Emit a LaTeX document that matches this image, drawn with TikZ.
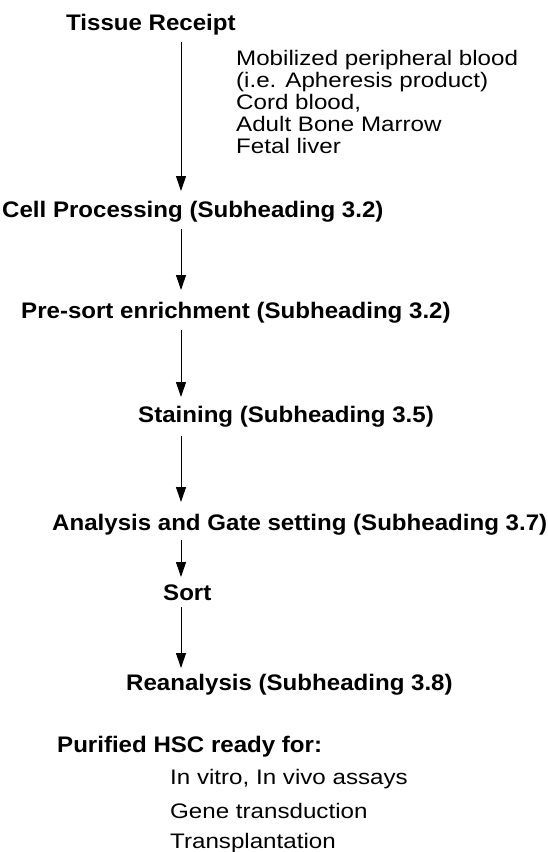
\documentclass[tikz,border=0pt]{standalone}
\usepackage{fontspec}
\setmainfont{Liberation Sans}
\newfontfamily\headfont{Liberation Sans}[FakeStretch=1.07]
\newfontfamily\itemfont{Liberation Sans}[FakeStretch=1.15]
\usetikzlibrary{arrows.meta}
\tikzset{
  stephead/.style={font=\headfont\bfseries\fontsize{22.5}{26}\selectfont, anchor=base west, inner sep=0pt},
  stepitem/.style={font=\itemfont\fontsize{21}{24}\selectfont, anchor=base west, inner sep=0pt},
  flow/.style={-{Triangle[width=10pt,length=15pt]}, line width=1pt}
}
\begin{document}
\begin{tikzpicture}[x=1pt,y=-1pt]
\path[use as bounding box] (0,0) rectangle (548,852);
\coordinate (axis) at (181,0);

% main steps
\node[stephead] (tr) at (66,30) {Tissue Receipt};
\node[stephead] (cp) at (2,217) {Cell Processing (Subheading 3.2)};
\node[stephead] (pe) at (21,318) {Pre-sort enrichment (Subheading 3.2)};
\node[stephead] (st) at (138,422) {Staining (Subheading 3.5)};
\node[stephead] (ag) at (52,530) {Analysis and Gate setting (Subheading 3.7)};
\node[stephead] (so) at (163,600) {Sort};
\node[stephead] (re) at (126,690) {Reanalysis (Subheading 3.8)};
\node[stephead] (ph) at (57,752) {Purified HSC ready for:};

% tissue sources
\node[stepitem] (s1) at (236,65) {Mobilized peripheral blood};
\node[stepitem] (s2) at (236,87) {(i.e. Apheresis product)};
\node[stepitem] (s3) at (236,109) {Cord blood,};
\node[stepitem] (s4) at (236,131) {Adult Bone Marrow};
\node[stepitem] (s5) at (236,153) {Fetal liver};

% downstream uses
\node[stepitem] (u1) at (170,784) {In vitro, In vivo assays};
\node[stepitem] (u2) at (170,818) {Gene transduction};
\node[stepitem] (u3) at (170,848) {Transplantation};

% flow arrows
\draw[flow] ([yshift=-12pt]tr.base -| axis) -- ([yshift=26pt]cp.base -| axis);
\draw[flow] ([yshift=-12pt]cp.base -| axis) -- ([yshift=28pt]pe.base -| axis);
\draw[flow] ([yshift=-12pt]pe.base -| axis) -- ([yshift=25pt]st.base -| axis);
\draw[flow] ([yshift=-14pt]st.base -| axis) -- ([yshift=28pt]ag.base -| axis);
\draw[flow] ([yshift=-10pt]ag.base -| axis) -- ([yshift=23pt]so.base -| axis);
\draw[flow] ([yshift=-7pt]so.base -| axis) -- ([yshift=22pt]re.base -| axis);
\end{tikzpicture}
\end{document}
